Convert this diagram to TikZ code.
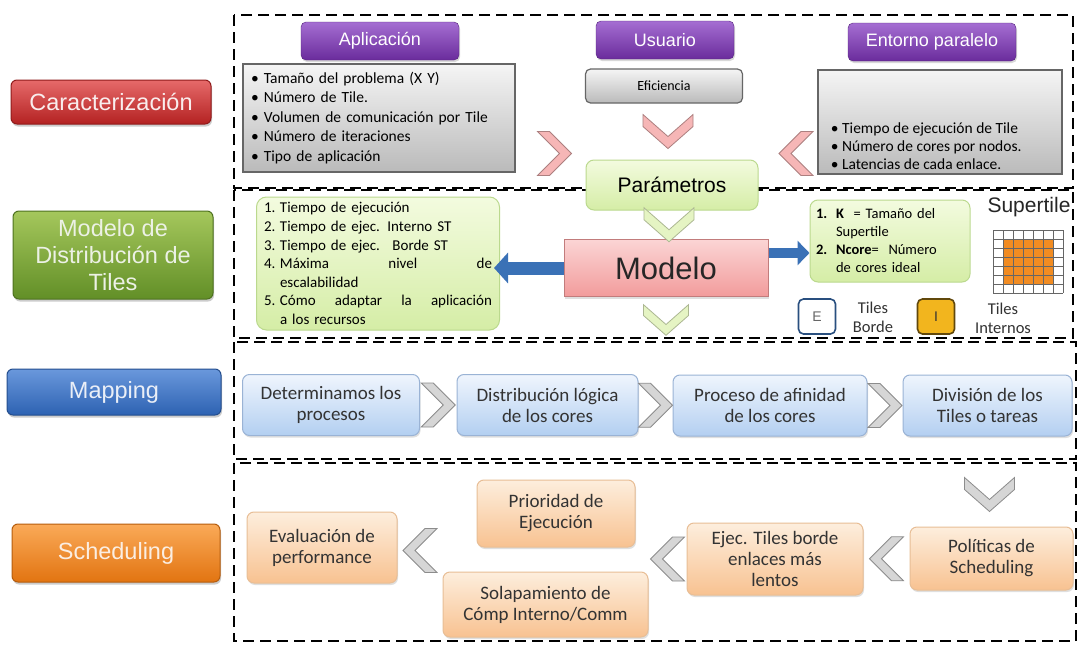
\documentclass[tikz,border=0pt]{standalone}
\usepackage{fontspec}
\setmainfont{Liberation Sans}
\newfontfamily\carlito{Carlito}
\usetikzlibrary{arrows.meta,positioning,calc,shadows}

\definecolor{carTop}{HTML}{E66A6A}
\definecolor{carBot}{HTML}{B42222}
\definecolor{modTop}{HTML}{A5C75C}
\definecolor{modBot}{HTML}{628F27}
\definecolor{mapTop}{HTML}{6A98DC}
\definecolor{mapBot}{HTML}{2D62B2}
\definecolor{schTop}{HTML}{FAAA58}
\definecolor{schBot}{HTML}{E27411}
\definecolor{hdrTop}{HTML}{A56ED2}
\definecolor{hdrBot}{HTML}{6A2C9C}
\definecolor{grnTop}{HTML}{F3FBDF}
\definecolor{grnBot}{HTML}{D5EDA6}
\definecolor{grnEdge}{HTML}{BBD98E}
\definecolor{mdlTop}{HTML}{FBD5D5}
\definecolor{mdlBot}{HTML}{F29B9B}
\definecolor{bluTop}{HTML}{EFF5FD}
\definecolor{bluBot}{HTML}{B3CFF1}
\definecolor{bluEdge}{HTML}{9AB3D5}
\definecolor{orgTop}{HTML}{FDEEDD}
\definecolor{orgBot}{HTML}{F8C291}
\definecolor{orgEdge}{HTML}{E8BE96}
\definecolor{arrBlue}{HTML}{3A71B6}
\definecolor{chevPink}{HTML}{F6B6B6}
\definecolor{chevGrey}{HTML}{D6D6D6}
\definecolor{chevGreen}{HTML}{E5F4C3}
\definecolor{tileOrg}{HTML}{F28C22}
\definecolor{tileYel}{HTML}{F2B51E}

\tikzset{
  hchev/.pic={\path[pic actions] (-17,-22) -- (-5,-22) -- (17,0) -- (-5,22) -- (-17,22) -- (5,0) -- cycle;},
  vchev/.pic={\path[pic actions] (-25,-17) -- (0,5) -- (25,-17) -- (25,-5) -- (0,17) -- (-25,-5) -- cycle;}
}

\begin{document}
\begin{tikzpicture}[
  x=1pt, y=-1pt,
  phase/.style={rounded corners=6pt, minimum width=200pt, align=center, line width=1pt,
    font=\fontsize{23.5}{27}\selectfont, drop shadow={opacity=.4, shadow xshift=1pt, shadow yshift=-2.5pt}},
  header/.style={rounded corners=5pt, minimum height=38pt, top color=hdrTop, bottom color=hdrBot,
    draw=hdrBot!80!black, text=white, font=\fontsize{18}{22}\selectfont,
    drop shadow={opacity=.3, shadow xshift=1pt, shadow yshift=-2pt}},
  greybox/.style={draw=black!60, line width=1.2pt, top color=black!4, bottom color=black!27},
  greenbox/.style={draw=grnEdge, line width=1pt, rounded corners=8pt, top color=grnTop, bottom color=grnBot},
  mapbox/.style={draw=bluEdge, line width=1pt, rounded corners=7pt, top color=bluTop, bottom color=bluBot,
    align=center, text=black!80, font=\carlito\fontsize{19}{21}\selectfont,
    drop shadow={opacity=.25, shadow xshift=1pt, shadow yshift=-2pt}},
  schbox/.style={draw=orgEdge, line width=1pt, rounded corners=7pt, top color=orgTop, bottom color=orgBot,
    align=center, text=black!80, font=\carlito\fontsize{19}{21}\selectfont,
    drop shadow={opacity=.25, shadow xshift=1pt, shadow yshift=-2pt}},
  frame/.style={draw, line width=2.6pt, dash pattern=on 11pt off 6pt},
  bluearrow/.style={draw=arrBlue, line width=13pt, -{Triangle[width=30pt,length=14pt]}},
  tilekey/.style={rounded corners=5pt, line width=1.6pt, minimum width=37pt, minimum height=35pt,
    font=\fontsize{14}{16}\selectfont},
  tiletext/.style={align=center, text=black!80, font=\carlito\fontsize{16.5}{19}\selectfont},
  pinkchev/.style={fill=chevPink, draw=chevPink!70!black, line width=.8pt},
  greychev/.style={fill=chevGrey, draw=black!45, line width=.8pt},
  greenchev/.style={fill=chevGreen, draw=chevGreen!75!black, line width=.8pt}
]
\fill[white] (0,0) rectangle (1080,645);
\useasboundingbox (0,0) rectangle (1080,645);

% phase labels
\node[phase, top color=carTop, bottom color=carBot, draw=carBot!80!black, text=white!92!carBot,
  minimum height=44pt] (car) at (111,102) {Caracterización};
\node[phase, top color=modTop, bottom color=modBot, draw=modBot!80!black, text=white!88!modBot,
  minimum height=88pt] (mod) at (113,255) {Modelo de\\Distribución de\\Tiles};
\node[phase, top color=mapTop, bottom color=mapBot, draw=mapBot!80!black, text=white!90!mapBot,
  minimum width=214pt, minimum height=46pt] (map) at (114,392) {Mapping};
\node[phase, top color=schTop, bottom color=schBot, draw=schBot!80!black, text=white!88!schBot,
  minimum width=208pt, minimum height=58pt] (sch) at (116,553) {Scheduling};

% dashed frames
\draw[frame] (234,15) rectangle (1073,188);
\draw[frame] (234,190) rectangle (1073,338);
\draw[frame] (234,342) rectangle (1076,459);
\draw[frame] (234,463) rectangle (1076,641);

% caracterizacion
\node[header, minimum width=158pt] (aplic) at (380,41) {Aplicación};
\node[header, minimum width=138pt] (usuario) at (665,40) {Usuario};
\node[header, minimum width=168pt] (entorno) at (932,42) {Entorno paralelo};
\node[greybox, minimum width=272pt, minimum height=108pt, text width=256pt, align=left,
  font=\carlito\fontsize{15.5}{19.5}\selectfont] (appbox) at (379,118)
  {• Tamaño del problema (X Y)\\• Número de Tile.\\• Volumen de comunicación por Tile\\• Número de iteraciones\\• Tipo de aplicación};
\node[greybox, rounded corners=5pt, minimum width=157pt, minimum height=34pt,
  font=\carlito\fontsize{14}{16}\selectfont] (efic) at (664,86) {Eficiencia};
\node[greybox, minimum width=244pt, minimum height=104pt] (entbox) at (940,122) {};
\node[anchor=west, align=left, font=\carlito\fontsize{15.5}{18}\selectfont] (enttxt)
  at ($(entbox.west)+(10,24)$) {• Tiempo de ejecución de Tile\\• Número de cores por nodos.\\• Latencias de cada enlace.};
\node[greenbox, minimum width=172pt, minimum height=50pt, font=\fontsize{21}{24}\selectfont] (param) at (672,185) {Parámetros};
\pic[pinkchev] at ($(efic.south)!0.5!(param.north)$) {vchev};
\pic[pinkchev] at ($(appbox.east)!0.5!(param.west)+(4,2)$) {hchev};
\pic[pinkchev, rotate=180] at ($(param.east)!0.5!(entbox.west)+(8,0)$) {hchev};

% modelo
\node[greenbox, rounded corners=10pt, minimum width=243pt, minimum height=133pt, text width=228pt, align=left,
  font=\carlito\fontsize{15}{18.6}\selectfont] (list) at (378,263.5)
  {\makebox[16pt][l]{1.}Tiempo de ejecución\\
   \makebox[16pt][l]{2.}Tiempo de ejec. Interno ST\\
   \makebox[16pt][l]{3.}Tiempo de ejec. \ Borde ST\\
   \makebox[16pt][l]{4.}Máxima\hfill nivel\hfill de\\
   \hspace*{16pt}escalabilidad\\
   \makebox[16pt][l]{5.}Cómo\hfill adaptar\hfill la\hfill aplicación\\
   \hspace*{16pt}a los recursos};
\node[draw=mdlBot!80!black, line width=1pt, top color=mdlTop, bottom color=mdlBot, minimum width=204pt,
  minimum height=57pt, font=\fontsize{31}{34}\selectfont, text=black!85,
  drop shadow={opacity=.25, shadow xshift=1pt, shadow yshift=-2pt}] (modelo) at (666,268) {Modelo};
\pic[greenchev] at ($(param.south)!0.5!(modelo.north)$) {vchev};
\pic[greenchev, scale=.9] at ($(modelo.south)+(0,23)$) {vchev};
\node[greenbox, minimum width=160pt, minimum height=82pt, text width=148pt, align=left,
  font=\carlito\fontsize{14.5}{18}\selectfont] (kbox) at (890,241)
  {\makebox[20pt][l]{\textbf{1.}}\textbf{K} \ = Tamaño del\\
   \hspace*{20pt}Supertile\\
   \makebox[20pt][l]{\textbf{2.}}\textbf{Ncore}= \ Número\\
   \hspace*{20pt}de cores ideal};
\draw[bluearrow, shorten >=-6pt] (modelo.west) -- (modelo.west -| list.east);
\coordinate (ra) at ($(modelo.east)+(0,-15)$);
\draw[bluearrow, line width=10pt, -{Triangle[width=24pt,length=12pt]}] (ra) -- (ra -| kbox.west);
\node[font=\fontsize{21}{23}\selectfont, text=black!85] (super) at (1029,207) {Supertile};
\fill[tileOrg] (1003,239) rectangle (1053,284);
\foreach \gx in {0,...,7}
  \draw[black!60, line width=.8pt] (993+10*\gx,230) -- (993+10*\gx,293);
\foreach \gy in {0,...,7}
  \draw[black!60, line width=.8pt] (993,230+9*\gy) -- (1063,230+9*\gy);
\node[tilekey, draw=arrBlue!70!black, fill=white, text=black!60] (ekey) at (817,316.5) {E};
\node[tiletext] (eborde) at (873,317) {Tiles\\Borde};
\node[tilekey, draw=tileYel!40!black, fill=tileYel, text=black!80] (ikey) at (936,316.5) {I};
\node[tiletext] (iinter) at (1003,318) {Tiles\\Internos};

% mapping
\node[mapbox, minimum width=177pt, minimum height=61pt] (m1) at (331,405) {Determinamos los\\procesos};
\node[mapbox, minimum width=181pt, minimum height=61pt] (m2) at (547.5,405) {Distribución lógica\\de los cores};
\node[mapbox, minimum width=194pt, minimum height=61pt] (m3) at (770,405.5) {Proceso de afinidad\\de los cores};
\node[mapbox, minimum width=169pt, minimum height=61pt] (m4) at (987.5,405.5) {División de los\\Tiles o tareas};
\pic[greychev] at ($(m1.east)!0.5!(m2.west)$) {hchev};
\pic[greychev] at ($(m2.east)!0.5!(m3.west)$) {hchev};
\pic[greychev] at ($(m3.east)!0.5!(m4.west)$) {hchev};

% scheduling
\node[schbox, minimum width=150pt, minimum height=71pt] (evalp) at (322,547.5) {Evaluación de\\performance};
\node[schbox, minimum width=158pt, minimum height=67pt] (prio) at (556,513.5) {Prioridad de\\Ejecución};
\node[schbox, minimum width=205pt, minimum height=65pt] (solap) at (545.5,604.5) {Solapamiento de\\Cómp Interno/Comm};
\node[schbox, minimum width=176pt, minimum height=72pt] (ejec) at (775,559) {Ejec. Tiles borde\\enlaces más\\lentos};
\node[schbox, minimum width=163pt, minimum height=63pt] (pol) at (991.5,558.5) {Políticas de\\Scheduling};
\pic[greychev] at ($(pol.north)+(-2,-32)$) {vchev};
\pic[greychev, rotate=180] at ($(ejec.east)!0.5!(pol.west)$) {hchev};
\pic[greychev, rotate=180] at ($(solap.east |- ejec.west)!0.5!(ejec.west)$) {hchev};
\pic[greychev, rotate=180] at ($(evalp.east)!0.5!(evalp.east -| solap.west)+(0,3)$) {hchev};
\end{tikzpicture}
\end{document}
